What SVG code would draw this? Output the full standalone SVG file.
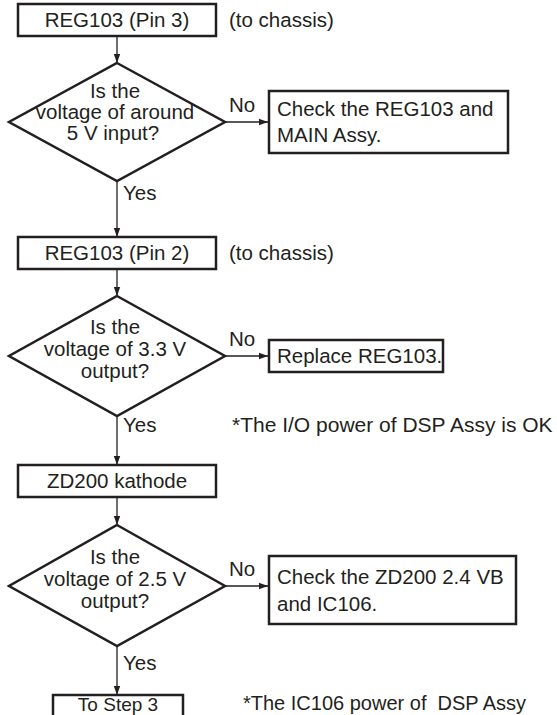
<svg xmlns="http://www.w3.org/2000/svg" width="557" height="715" viewBox="0 0 557 715">
<style>
.t{font-family:"Liberation Sans",Arial,sans-serif;font-size:20.5px;fill:#231f20}
.d{font-family:"Liberation Sans",Arial,sans-serif;font-size:20.5px;fill:#231f20;text-anchor:middle}
.c{text-anchor:middle}
.box{fill:#fff;stroke:#231f20;stroke-width:2.5}
.dia{fill:#fff;stroke:#231f20;stroke-width:2.5;stroke-linejoin:miter}
.ln{stroke:#231f20;stroke-width:1.3;fill:none}
</style>
<defs>
<marker id="ah" markerUnits="userSpaceOnUse" markerWidth="10" markerHeight="8" refX="9" refY="4" orient="auto">
<path d="M0,0.8 L9,4 L0,7.2 Z" fill="#231f20"/>
</marker>
</defs>
<rect width="557" height="715" fill="#fff"/>
<g id="connectors">
<line class="ln" x1="117" y1="36" x2="117" y2="63" marker-end="url(#ah)"/>
<line class="ln" x1="225" y1="122" x2="268" y2="122" marker-end="url(#ah)"/>
<line class="ln" x1="117" y1="181" x2="117" y2="237" marker-end="url(#ah)"/>
<line class="ln" x1="117" y1="269" x2="117" y2="296" marker-end="url(#ah)"/>
<line class="ln" x1="225" y1="356" x2="268" y2="356" marker-end="url(#ah)"/>
<line class="ln" x1="117" y1="416" x2="117" y2="465" marker-end="url(#ah)"/>
<line class="ln" x1="117" y1="497" x2="117" y2="525" marker-end="url(#ah)"/>
<line class="ln" x1="225" y1="586" x2="268" y2="586" marker-end="url(#ah)"/>
<line class="ln" x1="117" y1="646" x2="117" y2="695" marker-end="url(#ah)"/>
<text class="t" x="229" y="112">No</text>
<text class="t" x="123" y="200">Yes</text>
<text class="t" x="229" y="346">No</text>
<text class="t" x="123" y="432">Yes</text>
<text class="t" x="229" y="576">No</text>
<text class="t" x="123" y="670">Yes</text>
</g>
<g id="n1">
<rect class="box" x="18" y="4" width="198" height="32"/>
<text class="t c" x="117" y="27">REG103 (Pin 3)</text>
</g>
<g id="note1"><text class="t" x="229" y="27">(to chassis)</text></g>
<g id="d1">
<polygon class="dia" points="117,63 225,122 117,181 9,122"/>
<text class="d" x="115" y="98">Is the</text>
<text class="d" x="115" y="119">voltage of around</text>
<text class="d" x="113" y="140">5 V input?</text>
</g>
<g id="n2">
<rect class="box" x="269" y="91" width="239" height="62"/>
<text class="t" x="277" y="116">Check the REG103 and</text>
<text class="t" x="277" y="142">MAIN Assy.</text>
</g>
<g id="n3">
<rect class="box" x="18" y="237" width="198" height="32"/>
<text class="t c" x="117" y="260">REG103 (Pin 2)</text>
</g>
<g id="note2"><text class="t" x="229" y="260">(to chassis)</text></g>
<g id="d2">
<polygon class="dia" points="117,296 225,356 117,416 9,356"/>
<text class="d" x="115" y="334">Is the</text>
<text class="d" x="115" y="356">voltage of 3.3 V</text>
<text class="d" x="115" y="378">output?</text>
</g>
<g id="n4">
<rect class="box" x="269" y="340" width="174" height="32"/>
<text class="t" x="277" y="363">Replace REG103.</text>
</g>
<g id="note3"><text class="t" x="232" y="432" style="font-size:21px">*The I/O power of DSP Assy is OK</text></g>
<g id="n5">
<rect class="box" x="18" y="465" width="198" height="32"/>
<text class="t c" x="117" y="488">ZD200 kathode</text>
</g>
<g id="d3">
<polygon class="dia" points="117,525 225,586 117,646 9,586"/>
<text class="d" x="115" y="564">Is the</text>
<text class="d" x="115" y="586">voltage of 2.5 V</text>
<text class="d" x="115" y="608">output?</text>
</g>
<g id="n6">
<rect class="box" x="269" y="556" width="247" height="68"/>
<text class="t" x="277" y="584">Check the ZD200 2.4 VB</text>
<text class="t" x="277" y="611">and IC106.</text>
</g>
<g id="n7">
<rect class="box" x="53" y="695" width="130" height="30"/>
<text class="t c" x="118" y="710.5" style="font-size:19px">To Step 3</text>
</g>
<g id="note4"><text class="t" x="243" y="710" style="font-size:20px;white-space:pre">*The IC106 power of  DSP Assy</text></g>
</svg>
